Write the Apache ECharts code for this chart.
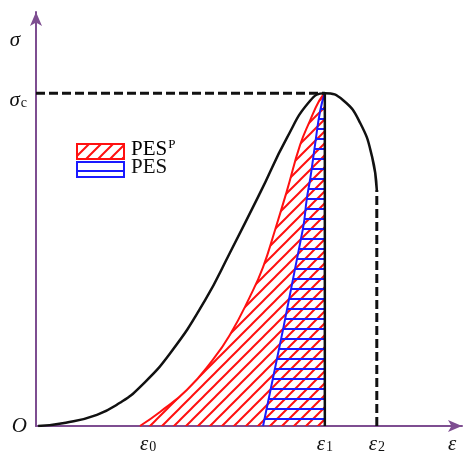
<!DOCTYPE html>
<html><head><meta charset="utf-8">
<script src="https://cdn.jsdelivr.net/npm/echarts@6/dist/echarts.min.js"></script>
<style>html,body{margin:0;padding:0;background:#fff}#c{width:465px;height:454px}</style>
</head><body><div id="c"></div>
<script>
// ---- data (normalised strain / stress units, 0..100) ----
const stressCurveX = [0.5, 7.0, 14.3, 19.7, 24.4, 31.5, 39.7, 45.5, 52.6, 58.9, 64.3, 67.8, 72.1, 76.1, 78.9, 80.0];
const stressCurveY = [0, 0.8, 2.7, 5.6, 9.4, 17.6, 30.4, 41.8, 56.3, 69.6, 78.5, 80.4, 78.7, 73.2, 65.0, 57.0];
const pesPX = [24.4, 29.1, 35.4, 41.5, 45.5, 50.2, 53.3, 56.1, 58.9, 62.0, 64.3, 66.5, 67.8];
const pesPY = [0, 3.4, 8.7, 16.0, 22.0, 31.2, 38.4, 47.3, 56.8, 67.9, 73.7, 78.6, 80.4];
const pesX = [53.3, 62.6, 63.6, 64.4, 65.5, 66.7, 67.8];
const pesY = [0, 47.3, 55.1, 59.9, 67.9, 76.1, 80.4];
const eps0 = 26.3, eps1 = 67.8, eps2 = 80.0, epsEnd = 97.7;
const sigmaC = 80.4, sigmaTop = 93.2, sigmaCLabel = 78.7;
const xTickValues = [eps0, eps1, eps2, epsEnd];
const xTickLabels = ['{i|ε}{s|0}', '{i|ε}{s|1}', '{i|ε}{s|2}', '{i|ε}'];
const yTickValues = [0, sigmaCLabel, sigmaTop];
const yTickLabels = ['{i|O}', '{i|σ}{s|c}', '{t|σ}'];
const legendNames = ['PES', 'PES'];

function zip(xs, ys) { return xs.map((x, i) => [x, ys[i]]); }

function makePattern(kind) {
  const cv = document.createElement('canvas');
  const s = kind === 'diag' ? 12 : 10;
  cv.width = s; cv.height = s;
  const ctx = cv.getContext('2d');
  ctx.lineWidth = 2;
  if (kind === 'diag') {
    ctx.strokeStyle = '#ff1010';
    ctx.beginPath();
    ctx.moveTo(-2, s + 2); ctx.lineTo(s + 2, -2);
    ctx.moveTo(-2, 2); ctx.lineTo(2, -2);
    ctx.moveTo(s - 2, s + 2); ctx.lineTo(s + 2, s - 2);
    ctx.stroke();
  } else {
    ctx.strokeStyle = '#1a1aff';
    ctx.beginPath();
    ctx.moveTo(0, s - 1); ctx.lineTo(s, s - 1);
    ctx.stroke();
  }
  return cv;
}
const redPat = makePattern('diag');
const bluePat = makePattern('horiz');

const purple = '#7e4e91';
const serif = 'Liberation Serif';
const rich = {
  i: { fontFamily: serif, fontStyle: 'italic', fontSize: 21, color: '#111' },
  t: { fontFamily: serif, fontStyle: 'italic', fontSize: 21, color: '#111', padding: [0, 7, 0, 0] },
  s: { fontFamily: serif, fontSize: 14, color: '#111', padding: [6, 0, 0, 1] }
};

const chart = echarts.init(document.getElementById('c'));
chart.setOption({
  animation: false,
  grid: { left: 36, right: 3, top: 12, bottom: 28, outerBoundsMode: 'none', containLabel: false },
  xAxis: {
    type: 'value', min: 0, max: 100,
    splitLine: { show: false },
    axisLine: { lineStyle: { color: purple, width: 2 }, symbol: ['none', 'arrow'], symbolSize: [9, 14] },
    axisTick: { show: false },
    axisLabel: {
      customValues: xTickValues, margin: 8, rich: rich,
      formatter: v => xTickLabels[xTickValues.indexOf(v)]
    }
  },
  yAxis: {
    type: 'value', min: 0, max: 100,
    splitLine: { show: false },
    axisLine: { lineStyle: { color: purple, width: 2 }, symbol: ['none', 'arrow'], symbolSize: [9, 14] },
    axisTick: { show: false },
    axisLabel: {
      customValues: yTickValues, margin: 9, rich: rich,
      formatter: v => yTickLabels[yTickValues.indexOf(v)]
    }
  },
  graphic: [
    { type: 'rect', left: 76, top: 143, shape: { width: 47, height: 15 }, style: { fill: { image: redPat, repeat: 'repeat' }, stroke: '#ff1010', lineWidth: 2 } },
    { type: 'rect', left: 76, top: 161, shape: { width: 47, height: 15 }, style: { fill: { image: bluePat, repeat: 'repeat' }, stroke: '#1a1aff', lineWidth: 2 } },
    { type: 'text', left: 131, top: 138, style: { text: '{a|' + legendNames[0] + '}{p|P}', rich: { a: { fontFamily: serif, fontSize: 21, color: '#111' }, p: { fontFamily: serif, fontSize: 13, color: '#111', padding: [0, 0, 9, 1] } } } },
    { type: 'text', left: 131, top: 157, style: { text: legendNames[1], fontFamily: serif, fontSize: 21, fill: '#111' } }
  ],
  series: [
    { type: 'line', data: zip(pesPX, pesPY), smooth: 0.5, symbol: 'none',
      lineStyle: { color: '#ff1010', width: 2 }, areaStyle: { color: { image: redPat, repeat: 'repeat' }, opacity: 1 }, z: 2 },
    { type: 'line', data: zip(pesX, pesY), smooth: 0.5, symbol: 'none',
      lineStyle: { color: '#1a1aff', width: 2 }, areaStyle: { color: { image: bluePat, repeat: 'repeat' }, opacity: 1 }, z: 3 },
    { type: 'line', data: [[eps1, 0], [eps1, sigmaC]], symbol: 'none', lineStyle: { color: '#111', width: 2.5 }, z: 4 },
    { type: 'line', data: [[0, sigmaC], [eps1, sigmaC]], symbol: 'none', lineStyle: { color: '#111', width: 3, type: [9, 4] }, z: 4 },
    { type: 'line', data: [[eps2, 0], [eps2, stressCurveY[stressCurveY.length - 1]]], symbol: 'none', lineStyle: { color: '#111', width: 3, type: [9, 4] }, z: 4 },
    { type: 'line', data: zip(stressCurveX, stressCurveY), smooth: 0.5, symbol: 'none', lineStyle: { color: '#111', width: 2.5 }, z: 5 }
  ]
});
</script></body></html>
